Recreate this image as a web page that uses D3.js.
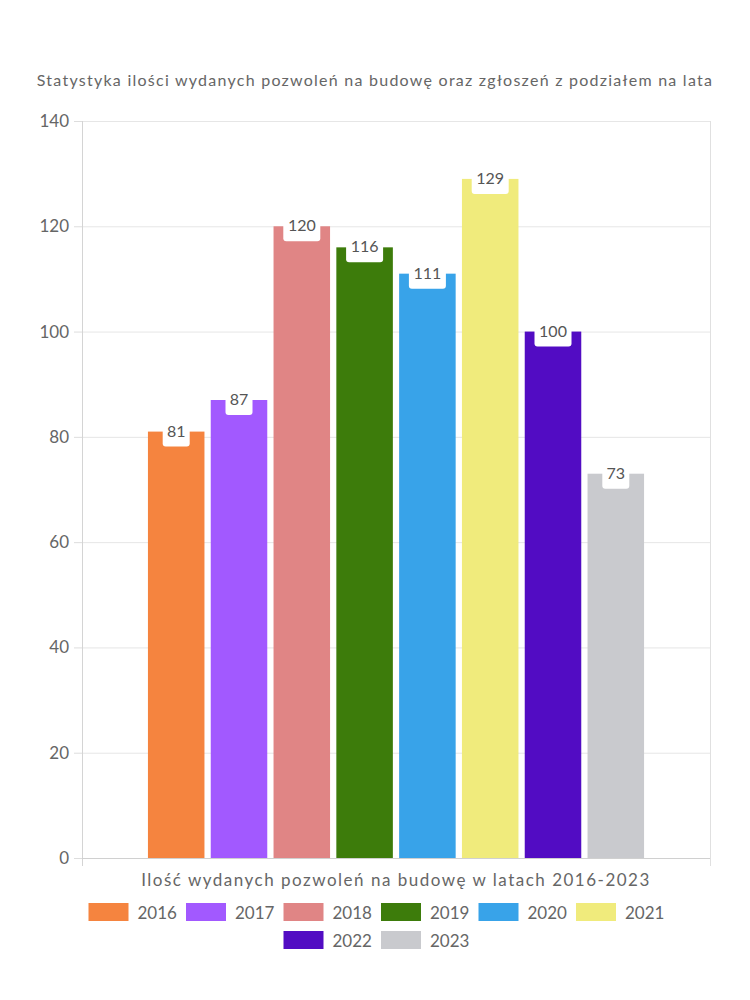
<!DOCTYPE html>
<html><head><meta charset="utf-8">
<script src="https://cdn.jsdelivr.net/npm/d3@7"></script>
<style>body{margin:0;background:#fff}svg{display:block}text{font-family:Lato,"Open Sans",sans-serif}</style>
</head><body><svg id="c" width="750" height="1000"></svg>
<script>
const title = "Statystyka ilości wydanych pozwoleń na budowę oraz zgłoszeń z podziałem na lata";
const categories = ["Ilość wydanych pozwoleń na budowę w latach 2016-2023"];
const years = ["2016","2017","2018","2019","2020","2021","2022","2023"];
const values = [81, 87, 120, 116, 111, 129, 100, 73];
const colors = ["#F5843F","#A259FF","#E08585","#3D7C0B","#38A3E9","#F0EB7C","#520CC3","#C9CACE"];
const yTicks = [0,20,40,60,80,100,120,140];

const svg = d3.select("#c");
const L = 82, R = 710, T = 121, B = 858;
const textCol = "#666";

const y = d3.scaleLinear().domain([0,140]).range([B,T]);
const x0 = d3.scaleBand().domain(categories).range([L,R]).paddingInner(0.2).paddingOuter(0.1);
const x1 = d3.scaleBand().domain(years).range([0, x0.bandwidth()]).paddingInner(0.1).paddingOuter(0.05);

svg.append("text").attr("x", 375).attr("y", 86).attr("text-anchor","middle")
  .attr("font-size", 16).attr("letter-spacing", 1.25).attr("fill", textCol).text(title);

// gridlines
svg.append("g").selectAll("line").data(yTicks.slice(1)).join("line")
  .attr("x1", L).attr("x2", R).attr("y1", d=>y(d)+0.5).attr("y2", d=>y(d)+0.5)
  .attr("stroke", "#e6e6e6").attr("stroke-width",1);
svg.append("line").attr("x1",R+0.5).attr("x2",R+0.5).attr("y1",T).attr("y2",B+8).attr("stroke","#e0e0e0");

// y axis
const ya = svg.append("g").attr("transform",`translate(${L},0)`)
  .call(d3.axisLeft(y).tickValues(yTicks).tickSize(8).tickPadding(5));
ya.select(".domain").remove();
ya.selectAll(".tick line").attr("stroke","#ddd");
ya.selectAll(".tick text").attr("font-size",17).attr("fill",textCol).attr("font-family","Lato, sans-serif");
svg.append("line").attr("x1",L+0.5).attr("x2",L+0.5).attr("y1",T).attr("y2",B+8).attr("stroke","#d4d4d4");

// bars
const g = svg.append("g").attr("transform",`translate(${x0(categories[0])},0)`);
const data = years.map((yr,i)=>({yr, v: values[i], c: colors[i]}));
g.selectAll("rect.bar").data(data).join("rect").attr("class","bar")
  .attr("x", d=>x1(d.yr)).attr("width", x1.bandwidth())
  .attr("y", d=>y(d.v)).attr("height", d=>B - y(d.v)).attr("fill", d=>d.c);

// x axis baseline
svg.append("line").attr("x1",L).attr("x2",R).attr("y1",B+0.5).attr("y2",B+0.5).attr("stroke","#d0d0d0");

// labels
const lab = g.selectAll("g.lab").data(data).join("g").attr("class","lab")
  .attr("transform", d=>`translate(${x1(d.yr)+x1.bandwidth()/2},${y(d.v)})`);
lab.append("rect")
  .attr("x", d=> -(String(d.v).length===3?18.5:13.5)).attr("width", d=> String(d.v).length===3?37:27)
  .attr("y", -16).attr("height", 31).attr("rx", 3).attr("fill","#fff");
lab.append("text").attr("text-anchor","middle").attr("y", 5).attr("font-size",16).attr("fill","#555").text(d=>d.v);

// category label
svg.append("text").attr("x", x0(categories[0])+x0.bandwidth()/2).attr("y", 886).attr("text-anchor","middle")
  .attr("font-size",17).attr("letter-spacing",1.5).attr("fill",textCol).text(categories[0]);

// legend
const rows = [years.slice(0,6), years.slice(6)];
const itemW = 97.5;
rows.forEach((row, ri)=>{
  const total = row.length*itemW - 10;
  const sx = 375 - total/2 + 1;
  row.forEach((yr,j)=>{
    const i = years.indexOf(yr);
    const gx = sx + j*itemW;
    const gy = 903 + ri*28;
    svg.append("rect").attr("x",gx).attr("y",gy).attr("width",40).attr("height",18).attr("fill",colors[i]);
    svg.append("text").attr("x",gx+49).attr("y",gy+15.5).attr("font-size",17).attr("fill",textCol).text(yr);
  });
});
</script></body></html>
